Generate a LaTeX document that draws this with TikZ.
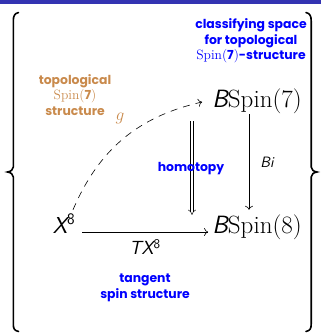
\documentclass[tikz,border=0pt]{standalone}
\usepackage{fontspec}
\newfontfamily\lblfont{Poppins}
\usetikzlibrary{arrows.meta}
\definecolor{barblue}{RGB}{51,51,178}
\definecolor{lblbrown}{RGB}{201,138,76}
\definecolor{lblblue}{RGB}{0,0,255}
\newcommand{\spinseven}{{\rmfamily\mdseries\fontsize{13.5}{15.5}\selectfont Spin(}{\lblfont\bfseries 7}{\rmfamily\mdseries\fontsize{13.5}{15.5}\selectfont )}}
\begin{document}
\begin{tikzpicture}[x=1pt,y=1pt,
  obj/.style={font=\fontsize{23}{26}\selectfont, inner sep=2pt, text height=22pt, text depth=4pt, anchor=base},
  bobj/.style={obj, font=\fontsize{25}{28}\selectfont},
  lbl/.style={font=\lblfont\bfseries\fontsize{12.4}{15.5}\selectfont, align=center, inner sep=0pt},
  arr/.style={line width=0.6pt, -{To[length=4pt,width=8pt]}},
  brace/.style={line width=1.6pt, line cap=round}
]
\useasboundingbox (0,0) rectangle (321,335);
\fill[barblue] (0,330.5) rectangle (321,335);
% braces
\draw[brace] (18.5,322.5) .. controls (14.5,321.5) and (13.3,319) .. (13.3,314) -- (13.3,168)
  .. controls (13.3,165.5) and (11,163.5) .. (7.5,163) .. controls (11,162.5) and (13.3,160.5) .. (13.3,158)
  -- (13.3,11) .. controls (13.3,6) and (14.5,4.5) .. (18.5,3.5);
\begin{scope}[xshift=324.5pt, xscale=-1]
\draw[brace] (18.5,322.5) .. controls (14.5,321.5) and (13.3,319) .. (13.3,314) -- (13.3,168)
  .. controls (13.3,165.5) and (11,163.5) .. (7.5,163) .. controls (11,162.5) and (13.3,160.5) .. (13.3,158)
  -- (13.3,11) .. controls (13.3,6) and (14.5,4.5) .. (18.5,3.5);
\end{scope}
% objects
\node[bobj] (B7) at (257,227) {{\sffamily\itshape B}Spin(7)};
\node[bobj] (B8) at (257,101) {{\sffamily\itshape B}Spin(8)};
\node[obj] (X8) at (64,101) {{\sffamily\itshape X}\textsuperscript{\sffamily 8}};
% arrows
\draw[arr] ([xshift=5pt,yshift=2pt]X8.base east) -- ([xshift=-2pt,yshift=2pt]B8.base west);
\draw[arr] ([xshift=-8pt]B7.south) -- ([xshift=-8pt]B8.north);
\draw[line width=0.5pt, double distance=2.2pt, -{Implies}] ([xshift=-65pt,yshift=-7pt]B7.south) -- ([xshift=-65pt,yshift=-5pt]B8.north);
\draw[line width=0.6pt, dash pattern=on 7pt off 6pt, -{To[length=4pt,width=8pt]}] ([xshift=9pt]X8.north) to[bend left=27] ([xshift=-8pt,yshift=-3pt]B7.west);
% labels
\node[lbl, text=lblblue] (cls) at (251,294) {classifying space\\for topological\\\spinseven-structure};
\node[lbl, text=lblbrown] (top) at (75,240) {topological\\\spinseven\\structure};
\node[text=lblbrown, font=\fontsize{16}{18}\selectfont, inner sep=0pt] (g) at (120,217) {$g$};
\node[lbl, text=lblblue] (hom) at (191,166) {homotopy};
\node[font=\sffamily\itshape\fontsize{15}{18}\selectfont, inner sep=0pt] (Bi) at (267,173) {Bi};
\node[font=\fontsize{19}{22}\selectfont, inner sep=0pt] (TX) at (145,88) {{\sffamily\itshape TX}\textsuperscript{\sffamily 8}};
\node[lbl, text=lblblue] (tan) at (145,47) {tangent\\spin structure};
\end{tikzpicture}
\end{document}
